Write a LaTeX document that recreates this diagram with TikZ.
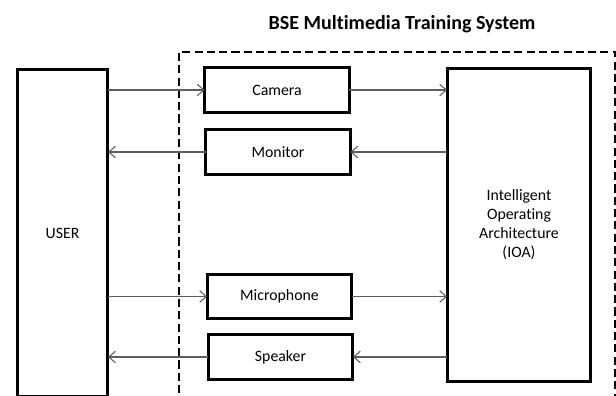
\documentclass[tikz,border=0pt]{standalone}
\usepackage{fontspec}
\setmainfont{Carlito}[Ligatures=NoCommon]
\usepackage{tikz}
\usetikzlibrary{arrows.meta,positioning}
\definecolor{wire}{HTML}{5E5E5E}
\tikzset{
    every picture/.style={line cap=butt,line join=miter},
    blockbox/.style={draw=black,fill=white,line width=1.7pt,
      minimum width=2.9cm,minimum height=0.89cm,inner sep=2pt,outer sep=0pt,
      font=\fontsize{9}{10.8}\selectfont,align=center},
    sysframe/.style={draw=black,line width=1.7pt,dash pattern=on 4.6pt off 2.4pt},
    sigarrow/.style={-{Straight Barb[length=1.3mm,width=2.3mm]},draw=wire,
      line width=0.6pt},
    titletext/.style={font=\fontsize{11.4}{13}\selectfont\bfseries}
}
\begin{document}
\begin{tikzpicture}[x=0.02cm,y=-0.02cm]
  \useasboundingbox (0,0) rectangle (616,396);
  \clip (0,0) rectangle (616,396);
  % system boundary
  \node[titletext] (title) at (402,24) {BSE Multimedia Training System};
  \draw[sysframe] (179,430) |- (615.5,52) -- (615.5,430);
  % blocks
  \node[blockbox,minimum width=1.82cm,minimum height=6.56cm] (user) at (62.5,233) {USER};
  \node[blockbox] (cam) at (277,90) {Camera};
  \node[blockbox] (mon) at (278,152) {Monitor};
  \node[blockbox] (mic) at (279.5,296.5) {Microphone};
  \node[blockbox] (spk) at (280.5,357) {Speaker};
  \node[blockbox,minimum width=2.88cm,minimum height=6.28cm] (ioa) at (519,225)
    {Intelligent\\Operating\\Architecture\\(IOA)};
  % user -> device -> ioa
  \foreach \b in {cam,mic} {
    \draw[sigarrow] (user.east |- \b.west) -- (\b.west);
    \draw[sigarrow] (\b.east) -- (\b.east -| ioa.west);
  }
  % ioa -> device -> user
  \foreach \b in {mon,spk} {
    \draw[sigarrow] (ioa.west |- \b.east) -- (\b.east);
    \draw[sigarrow] (\b.west) -- (\b.west -| user.east);
  }
\end{tikzpicture}
\end{document}
